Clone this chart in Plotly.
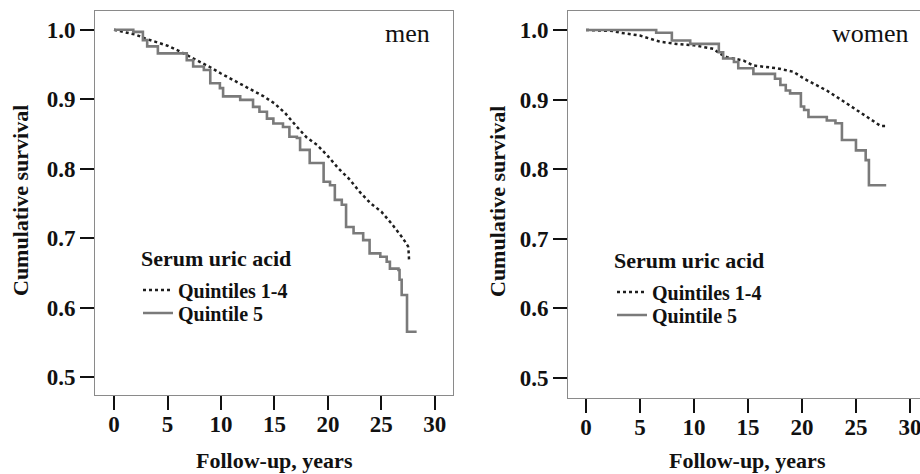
import plotly.graph_objects as go

# ---------------- data ----------------
men_q14_t = [0, 1, 2, 3, 4, 5, 6, 7, 8, 9, 10, 11, 12, 13, 14, 15, 16, 17, 18, 19, 20,
             21, 22, 23, 24, 25, 26, 27, 27.5, 27.55, 27.6]
men_q14_s = [1.0, 0.997, 0.993, 0.987, 0.982, 0.977, 0.970, 0.962, 0.955, 0.946, 0.937,
             0.929, 0.920, 0.912, 0.904, 0.894, 0.880, 0.862, 0.845, 0.834, 0.818,
             0.800, 0.785, 0.766, 0.750, 0.738, 0.720, 0.700, 0.688, 0.680, 0.666]

men_q5_t = [0, 1.8, 2.7, 3.1, 4.1, 6.8, 7.4, 8.4, 9.0, 9.9, 10.2, 11.8, 13.0, 13.6, 14.3,
            14.9, 15.8, 16.4, 17.1, 17.4, 18.3, 19.6, 20.2, 20.65, 21.3, 21.7, 22.4, 23.3,
            23.9, 24.9, 25.5, 25.8, 26.6, 26.7, 26.9, 27.4, 28.3]
men_q5_s = [1.0, 0.997, 0.985, 0.976, 0.966, 0.956, 0.947, 0.942, 0.923, 0.916, 0.904,
            0.899, 0.889, 0.882, 0.872, 0.865, 0.860, 0.846, 0.844, 0.827, 0.808, 0.781,
            0.776, 0.755, 0.748, 0.716, 0.707, 0.697, 0.678, 0.673, 0.666, 0.656, 0.654,
            0.640, 0.618, 0.565, 0.565]

women_q14_t = [0, 2.5, 3.2, 5.0, 6.9, 8.4, 10.0, 11.8, 12.4, 13.05, 14.6, 15.5, 17.7, 19.2,
               20.2, 21.1, 22.3, 23.9, 25.4, 26.7, 27.3, 27.8]
women_q14_s = [1.0, 0.9986, 0.996, 0.992, 0.983, 0.980, 0.978, 0.973, 0.966, 0.961, 0.956,
               0.949, 0.945, 0.940, 0.930, 0.923, 0.913, 0.897, 0.882, 0.868, 0.862, 0.862]

women_q5_t = [0, 6.5, 7.95, 9.65, 12.3, 12.7, 13.7, 14.1, 15.5, 17.5, 18.0, 18.5, 18.9,
              19.9, 20.2, 20.6, 22.3, 23.1, 23.7, 25.0, 25.9, 26.2, 27.8]
women_q5_s = [1.0, 0.996, 0.985, 0.980, 0.968, 0.959, 0.954, 0.945, 0.937, 0.930, 0.921,
              0.913, 0.909, 0.890, 0.885, 0.875, 0.870, 0.866, 0.842, 0.827, 0.813, 0.777,
              0.777]

x_ticks = [0, 5, 10, 15, 20, 25, 30]
y_ticks = [0.5, 0.6, 0.7, 0.8, 0.9, 1.0]
y_tick_labels = ["0.5", "0.6", "0.7", "0.8", "0.9", "1.0"]
series_names = ["Quintiles 1-4", "Quintile 5"]
panel_labels = ["men", "women"]
legend_title = "Serum uric acid"
x_title = "Follow-up, years"
y_title = "Cumulative survival"

# ---------------- styling ----------------
SERIF = "Liberation Serif, Times New Roman, serif"
W, H = 920, 474
DOT_COLOR = "#1e1e1e"
GRAY = "#7a7a7a"

fig = go.Figure()

def add_pair(t14, s14, t5, s5, xa, ya, leg_a, leg_b):
    fig.add_trace(go.Scatter(x=t14, y=s14, mode="lines", name=series_names[0],
                             line=dict(color=DOT_COLOR, width=2.5, dash="dot"),
                             xaxis=xa, yaxis=ya, legend=leg_a, showlegend=True))
    fig.add_trace(go.Scatter(x=t5, y=s5, mode="lines", name=series_names[1],
                             line=dict(color=GRAY, width=2.6, shape="hv"),
                             xaxis=xa, yaxis=ya, legend=leg_b, showlegend=True))

add_pair(men_q14_t, men_q14_s, men_q5_t, men_q5_s, "x", "y", "legend", "legend2")
add_pair(women_q14_t, women_q14_s, women_q5_t, women_q5_s, "x2", "y2", "legend3", "legend4")

tickfont = dict(family=SERIF, size=23, color="#111", weight="bold")

def xaxis(domain, rng, anchor):
    return dict(domain=domain, range=rng, tickvals=x_ticks, ticks="outside", ticklen=14,
                tickwidth=2, tickcolor="#111", tickfont=tickfont, showgrid=False,
                zeroline=False, showline=True, linecolor="#8a8a8a", linewidth=1,
                mirror=True, anchor=anchor, ticklabelstandoff=-6,
                ticklabeloverflow="allow")

def yaxis(domain, rng, mirror, anchor):
    return dict(domain=domain, range=rng, tickvals=y_ticks, ticktext=y_tick_labels,
                ticks="outside", ticklen=14, tickwidth=2, tickcolor="#111",
                tickfont=tickfont, showgrid=False, zeroline=False, showline=True,
                linecolor="#8a8a8a", linewidth=1, mirror=mirror, anchor=anchor)

legfont = dict(family=SERIF, size=20, color="#111", weight="bold")

def leg(xpx, ypx):
    return dict(x=xpx / W, y=(H - ypx) / H, xanchor="left", yanchor="middle",
                bgcolor="rgba(0,0,0,0)", font=legfont, itemwidth=30,
                itemclick=False, borderwidth=0)

fig.update_layout(
    width=W, height=H,
    margin=dict(l=0, r=0, t=0, b=0),
    paper_bgcolor="white", plot_bgcolor="white",
    xaxis=xaxis([95 / W, 453 / W], [-1.78, 31.7], "y"),
    yaxis=yaxis([(H - 395) / H, (H - 11) / H], [0.474, 1.027], True, "x"),
    xaxis2=xaxis([568 / W, 1.0], [-1.667, 30.93], "y2"),
    yaxis2=yaxis([(H - 398) / H, (H - 11) / H], [0.4713, 1.0273], False, "x2"),
    legend=leg(138, 290),
    legend2=leg(138, 313),
    legend3=leg(612, 292),
    legend4=leg(612, 315),
    showlegend=True,
)

ann = []
def text(xpx, ypx, s, size, bold=True, xanchor="center", angle=0):
    f = dict(family=SERIF, size=size, color="#111")
    if bold:
        f["weight"] = "bold"
    ann.append(dict(x=xpx / W, y=(H - ypx) / H, xref="paper", yref="paper", text=s,
                    xanchor=xanchor, yanchor="middle", showarrow=False, textangle=angle,
                    font=f))

# panel labels
text(407, 33, panel_labels[0], 26, bold=False)
text(870, 33, panel_labels[1], 26, bold=False)
# legend titles
text(139, 258, legend_title, 22, xanchor="left")
text(612, 260, legend_title, 22, xanchor="left")
# axis titles
text(274, 460, x_title, 22)
text(747, 460, x_title, 22)
text(20, 201, y_title, 22, angle=-90)
text(497, 202, y_title, 22, angle=-90)
fig.update_layout(annotations=ann)

fig.write_html("out.html", config={"displayModeBar": False},
               post_script="document.body.style.margin='0';")
